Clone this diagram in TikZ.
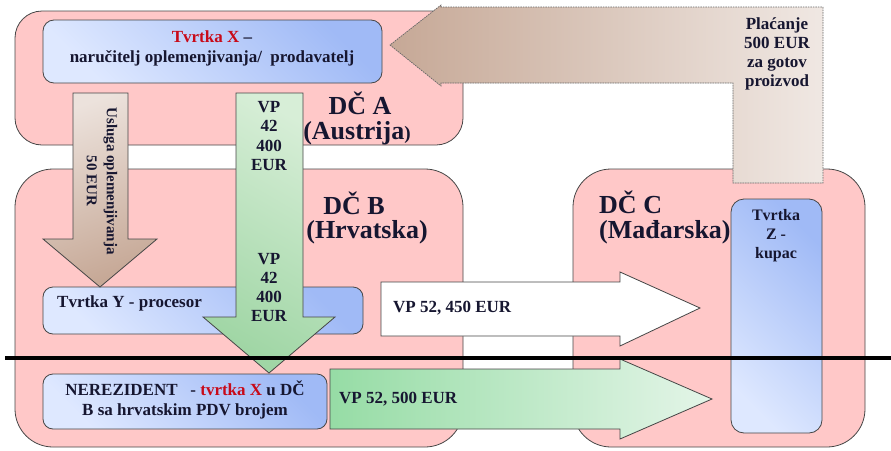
\documentclass[tikz,border=0pt]{standalone}
\usepackage{fontspec}
\setmainfont{Liberation Serif}
\definecolor{ink}{RGB}{22,22,48}
\definecolor{redx}{RGB}{200,10,25}
\definecolor{pinkR}{RGB}{255,200,200}
\definecolor{edgeC}{RGB}{70,70,70}
\definecolor{blueL}{RGB}{222,232,255}
\definecolor{blueD}{RGB}{160,186,246}
\definecolor{greenL}{RGB}{215,238,215}
\definecolor{greenD}{RGB}{160,214,165}
\definecolor{greenH}{RGB}{150,220,165}
\definecolor{greenHL}{RGB}{228,245,232}
\definecolor{brownL}{RGB}{236,226,220}
\definecolor{brownD}{RGB}{198,168,150}
\begin{document}
\begin{tikzpicture}[x=1pt,y=-1pt,
  txt/.style={font=\bfseries\fontsize{17}{19}\selectfont, text=ink, inner sep=0pt, align=center},
  big/.style={font=\bfseries\fontsize{26}{30}\selectfont, text=ink, inner sep=0pt},
  region/.style={draw=edgeC, line width=0.8pt, fill=pinkR},
  bluebox/.style={draw=edgeC, line width=0.8pt, rounded corners=11pt, top color=blueD, bottom color=blueL, shading angle=-45},
  arrowline/.style={draw=edgeC, line width=0.8pt},
]
\useasboundingbox (0,0) rectangle (891,450);

% regions
\draw[region, rounded corners=27pt] (15,11) rectangle (463,145);
\draw[region, rounded corners=38pt] (15,169) rectangle (463,447);
\draw[region, rounded corners=38pt] (573,169) rectangle (865,447);

% region labels
\node[big] (lblA) at (360,103) {DČ A};
\node[big] (lblA2) at (357,133) {(Austrija{\fontsize{19}{20}\selectfont)}};
\node[big] (lblB) at (354,203) {DČ B};
\node[big] (lblB2) at (367,232) {(Hrvatska)};
\node[big, anchor=west] (lblC) at (599,202) {DČ C};
\node[big, anchor=west] (lblC2) at (599,232) {(Mađarska)};

% payment L-shaped arrow
\path[draw=gray!80!black, line width=0.7pt, dash pattern=on 1.6pt off 0.9pt,
      left color=brownD, right color=brownL!80!white]
  (823,7) -- (823,183) -- (733,183) -- (733,83) -- (441,83) -- (441,86)
  -- (390,45) -- (441,5) -- (441,7) -- cycle;
\node[txt] (pay) at (777,54) {Plaćanje\\500 EUR\\za gotov\\proizvod};

% company boxes
\draw[bluebox] (43,20) rectangle (382,83);
\node[txt, font=\bfseries\fontsize{17}{20}\selectfont] (tx) at (212,48) {{\color{redx}Tvrtka X} –\\naručitelj oplemenjivanja/~~prodavatelj};

\draw[bluebox, rounded corners=10pt] (43,287) rectangle (363,334);
\node[txt, anchor=west] (ty) at (57,303) {Tvrtka Y - procesor};

\draw[bluebox, rounded corners=10pt] (43,374) rectangle (327,429);
\node[txt, font=\bfseries\fontsize{17}{20}\selectfont] (nr) at (185,400) {NEREZIDENT~~~- {\color{redx}tvrtka X} u DČ\\B sa hrvatskim PDV brojem};

\draw[bluebox, rounded corners=13pt] (731,199) rectangle (822,433);
\node[txt, font=\bfseries\fontsize{16}{19}\selectfont] (tz) at (776,236) {Tvrtka\\Z -\\kupac};

% brown vertical arrow
\path[arrowline, top color=brownL, bottom color=brownD, shading angle=20]
  (73,93) -- (128,93) -- (128,239) -- (157,239) -- (100,287) -- (43,239) -- (73,239) -- cycle;
\node[txt, rotate=-90, font=\bfseries\fontsize{15}{20}\selectfont] (usl) at (102,181) {Usluga oplemenjivanja\\50 EUR};

% green vertical arrow
\path[arrowline, top color=greenL, bottom color=greenD, shading angle=-30]
  (236,93) -- (303,93) -- (303,317) -- (335,317) -- (269,373) -- (203,317) -- (236,317) -- cycle;
\node[txt, font=\bfseries\fontsize{17}{19.3}\selectfont] (vp1) at (269,136) {VP\\42\\400\\EUR};
\node[txt, font=\bfseries\fontsize{17}{19}\selectfont] (vp2) at (269,288) {VP\\42\\400\\EUR};

% white horizontal arrow
\path[arrowline, fill=white]
  (381,282) -- (620,282) -- (620,272) -- (700,308) -- (620,346) -- (620,336) -- (381,336) -- cycle;
\node[txt, anchor=west] (w450) at (393,308) {VP 52, 450 EUR};

% green horizontal arrow
\path[arrowline, left color=greenH, right color=greenHL]
  (330,369) -- (620,369) -- (620,359) -- (712,399) -- (620,439) -- (620,429) -- (330,429) -- cycle;
\node[txt, anchor=west] (g500) at (339,399) {VP 52, 500 EUR};

% separating line
\coordinate (lineL) at (5,358);
\coordinate (lineR) at (891,358);
\draw[line width=3.5pt, black] (lineL) -- (lineR);
\end{tikzpicture}
\end{document}
